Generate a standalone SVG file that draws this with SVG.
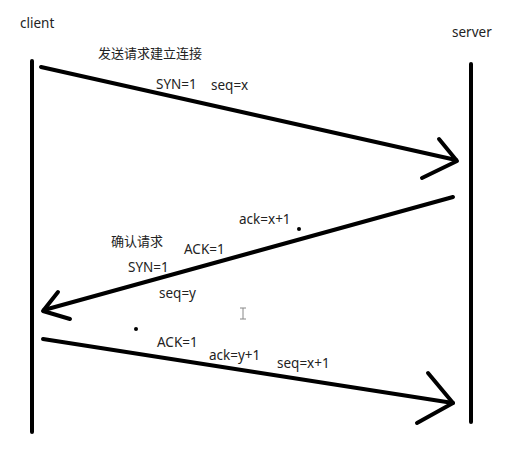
<svg xmlns="http://www.w3.org/2000/svg" width="507" height="463" viewBox="0 0 507 463">
<style>
.life{stroke:#000;stroke-width:4;stroke-linecap:round;fill:none}
.msg{stroke:#000;stroke-width:4;stroke-linecap:round;stroke-linejoin:round;fill:none}
text{font-family:"Noto Sans","Noto Sans CJK SC",sans-serif;font-size:13.5px;fill:#222}
text.zh{font-size:13px}
</style>
<rect width="507" height="463" fill="#fff"/>
<g id="client">
<line class="life" x1="32" y1="61" x2="32" y2="432"/>
<text x="20" y="28">client</text>
</g>
<g id="server">
<line class="life" x1="471" y1="64" x2="471" y2="422"/>
<text x="452" y="37">server</text>
</g>
<g id="connectors">
<g id="syn">
<line class="msg" x1="41" y1="67" x2="456" y2="160"/>
<polyline class="msg" points="439,139 457,161 422,178"/>
</g>
<g id="synack">
<line class="msg" x1="453" y1="197" x2="44" y2="310"/>
<polyline class="msg" points="58,292 43,311 70,319"/>
</g>
<g id="ack">
<line class="msg" x1="43" y1="339" x2="453" y2="403"/>
<polyline class="msg" points="428,373 453,403 417,423"/>
</g>
</g>
<g id="labels">
<text class="zh" x="98" y="58">发送请求建立连接</text>
<text x="156" y="89">SYN=1</text>
<text x="211" y="90">seq=x</text>
<text x="239" y="224">ack=x+1</text>
<circle cx="299" cy="229" r="2" fill="#000"/>
<text class="zh" x="111" y="246">确认请求</text>
<text x="184" y="254">ACK=1</text>
<text x="128" y="272">SYN=1</text>
<text x="159" y="298">seq=y</text>
<circle cx="136" cy="329" r="2" fill="#000"/>
<text x="157" y="347">ACK=1</text>
<text x="209" y="360">ack=y+1</text>
<text x="277" y="368">seq=x+1</text>
</g>
<path d="M240,308h6M243,308v11M240,319h6" stroke="#888" stroke-width="1" fill="none"/>
</svg>
